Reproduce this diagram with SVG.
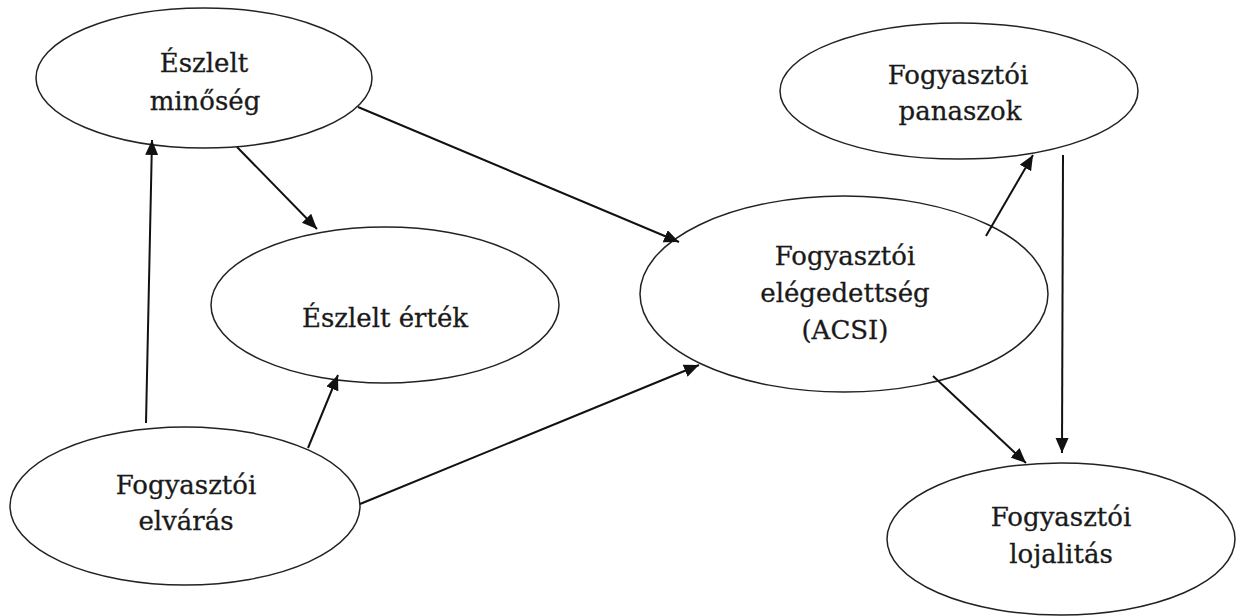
<svg xmlns="http://www.w3.org/2000/svg" width="1238" height="616" viewBox="0 0 1238 616">
<defs>
<style>
.node ellipse{fill:#fff;stroke:#222;stroke-width:1.5}
.node text{font-family:"DejaVu Serif","Liberation Serif",serif;font-size:26px;fill:#1a1a1a;stroke:#1a1a1a;stroke-width:0.3;text-anchor:middle}
.conn line{stroke:#111;stroke-width:2;fill:none;marker-end:url(#arr)}
</style>
<marker id="arr" markerUnits="userSpaceOnUse" markerWidth="16" markerHeight="14" refX="15" refY="6.5" orient="auto">
<path d="M0,0 L15,6.5 L0,13 z" fill="#111"/>
</marker>
</defs>
<rect width="1238" height="616" fill="#fff"/>
<g id="n-minoseg" class="node">
<ellipse cx="204" cy="78" rx="168" ry="70"/>
<text x="204" y="72">Észlelt</text>
<text x="205" y="110">minőség</text>
</g>
<g id="n-ertek" class="node">
<ellipse cx="385" cy="305" rx="174" ry="78"/>
<text x="385" y="327">Észlelt érték</text>
</g>
<g id="n-elvaras" class="node">
<ellipse cx="185" cy="506" rx="175" ry="79"/>
<text x="186" y="494">Fogyasztói</text>
<text x="186" y="530">elvárás</text>
</g>
<g id="n-acsi" class="node">
<ellipse cx="844" cy="294" rx="204" ry="98"/>
<text x="845" y="265">Fogyasztói</text>
<text x="845" y="302">elégedettség</text>
<text x="845" y="339">(ACSI)</text>
</g>
<g id="n-panaszok" class="node">
<ellipse cx="959" cy="91" rx="179" ry="68"/>
<text x="958" y="84">Fogyasztói</text>
<text x="960" y="120">panaszok</text>
</g>
<g id="n-lojalitas" class="node">
<ellipse cx="1061" cy="539" rx="174" ry="76"/>
<text x="1061" y="526">Fogyasztói</text>
<text x="1061" y="563">lojalitás</text>
</g>
<g id="connectors" class="conn">
<line x1="146" y1="423" x2="152" y2="140"/>
<line x1="237" y1="147" x2="317" y2="229"/>
<line x1="358" y1="107" x2="679" y2="242"/>
<line x1="308" y1="448" x2="338" y2="375"/>
<line x1="360" y1="504" x2="699" y2="365"/>
<line x1="986" y1="236" x2="1033" y2="155"/>
<line x1="1063" y1="155" x2="1062" y2="453"/>
<line x1="933" y1="376" x2="1026" y2="463"/>
</g>
</svg>
